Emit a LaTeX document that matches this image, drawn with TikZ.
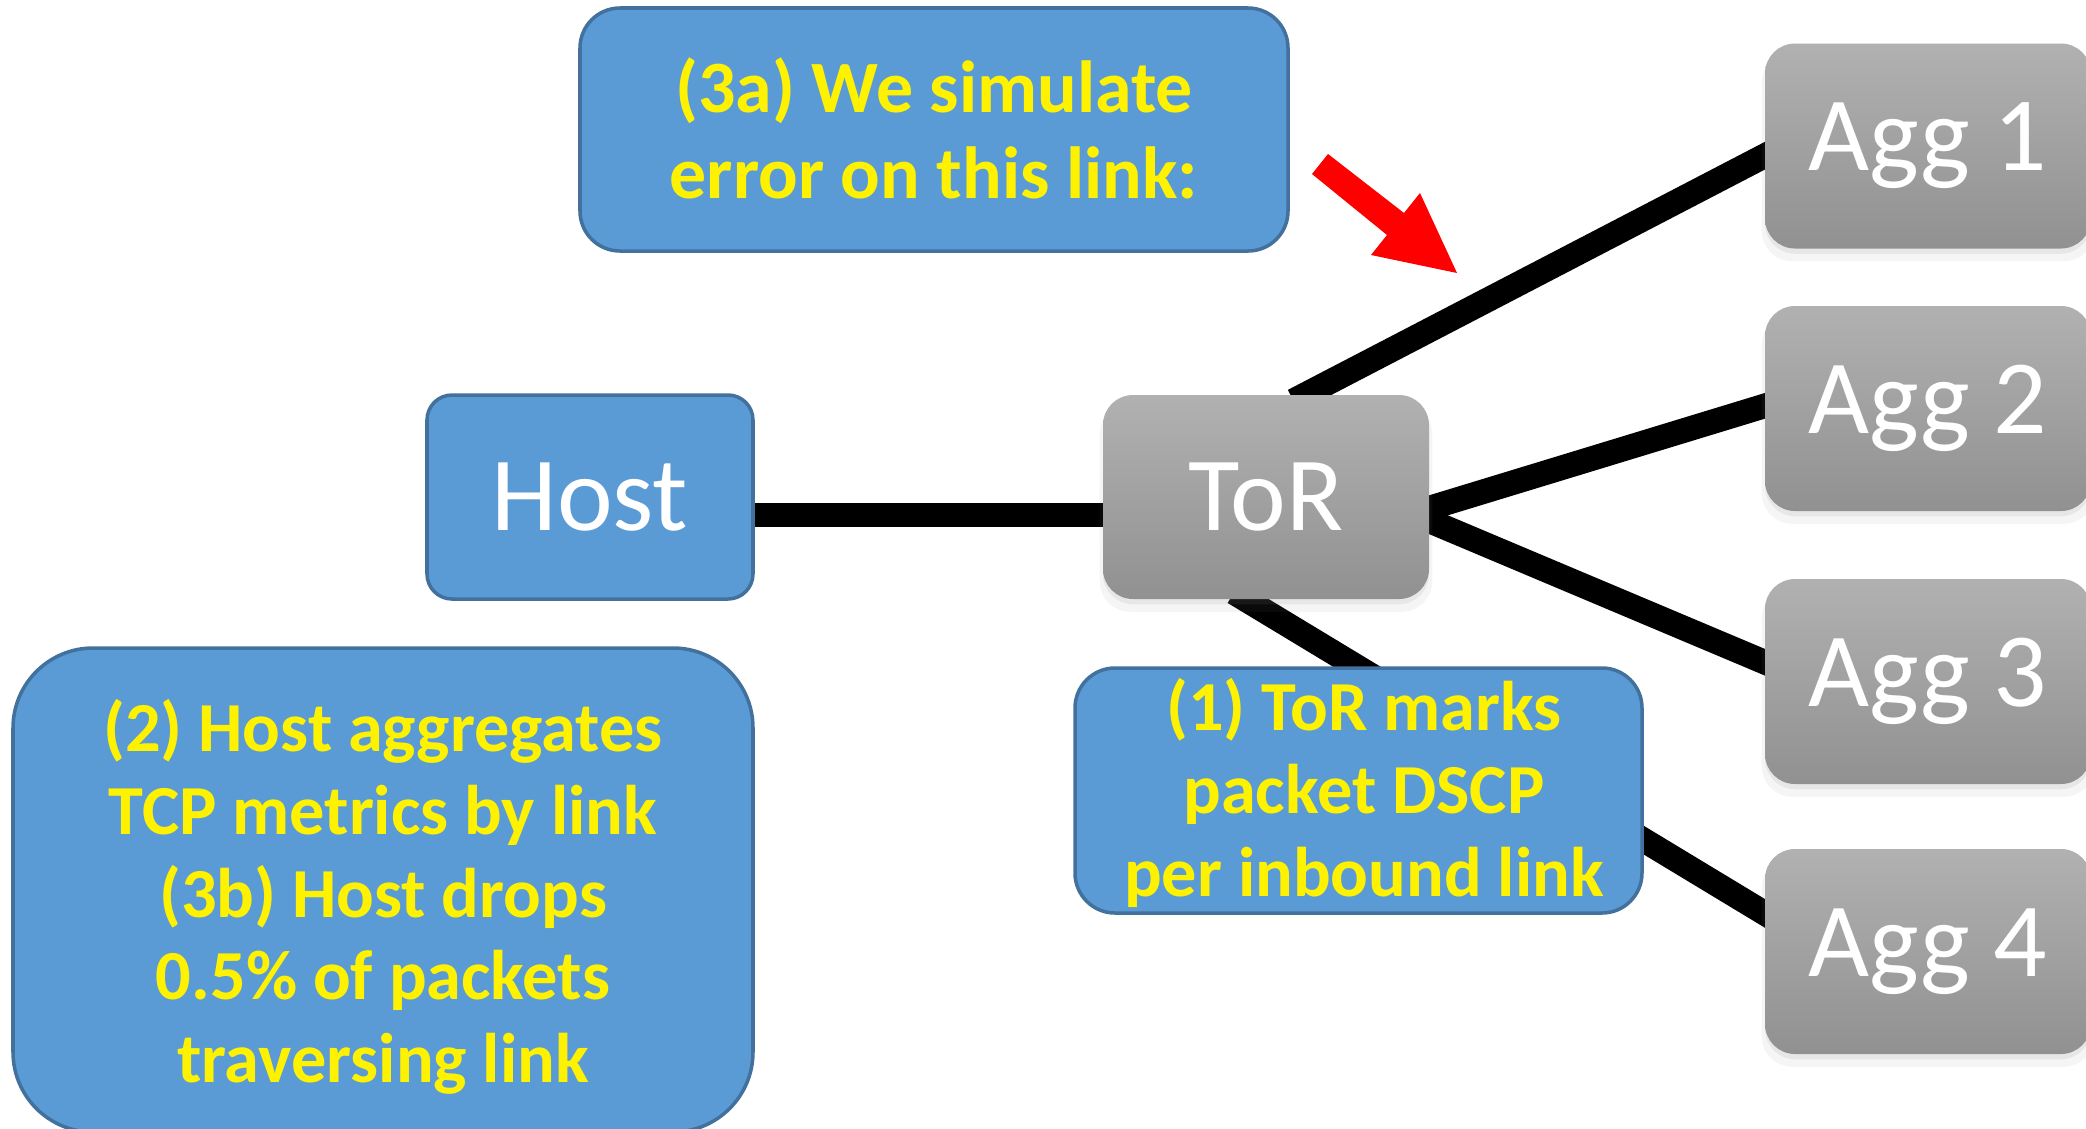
\documentclass[tikz,border=0pt]{standalone}
\usepackage{fontspec}
\setmainfont{Carlito}
\usetikzlibrary{backgrounds,calc,shadows}
\definecolor{boxblue}{RGB}{91,155,213}
\definecolor{boxedge}{RGB}{65,113,156}
\definecolor{switchtop}{RGB}{177,177,177}
\definecolor{switchbot}{RGB}{145,145,145}
\newcommand{\linkwidth}{7pt}
\newcommand{\boxw}{3.26cm}
\newcommand{\boxh}{2.04cm}

\begin{document}
\begin{tikzpicture}[
  switch/.style={rounded corners=0.3cm, top color=switchtop, bottom color=switchbot,
    minimum width=\boxw, minimum height=\boxh, inner sep=0pt, text=white,
    font=\fontsize{30}{36}\selectfont,
    drop shadow={opacity=0.08, shadow xshift=0pt, shadow yshift=-3pt, shadow scale=1.02},
    drop shadow={opacity=0.12, shadow xshift=0pt, shadow yshift=-1.5pt}},
  hostbox/.style={rounded corners=0.25cm, fill=boxblue, draw=boxedge, line width=1pt,
    minimum width=\boxw, minimum height=\boxh, inner sep=0pt, text=white,
    font=\fontsize{30}{36}\selectfont},
  infobox/.style={fill=boxblue, draw=boxedge, line width=1pt, inner sep=0pt},
  infotext/.style={text=yellow, font=\bfseries\fontsize{20}{23.5}\selectfont,
    align=center, inner sep=0pt},
  link/.style={line width=\linkwidth, shorten <=-4pt, shorten >=-4pt}
]
\useasboundingbox (0,0) rectangle (20.86,-11.28);
% boxes
\node[hostbox] (host) at (5.90,-4.97) {Host};
\node[switch] (tor) at (12.66,-4.97) {ToR};
\node[switch, minimum height=2.05cm] (agg1) at (19.28,-1.46) {Agg 1};
\node[switch, minimum height=2.05cm] (agg2) at (19.28,-4.085) {Agg 2};
\node[switch, minimum height=2.05cm] (agg3) at (19.28,-6.815) {Agg 3};
\node[switch, minimum height=2.05cm] (agg4) at (19.28,-9.515) {Agg 4};
% notes
\node[infobox, rounded corners=0.4cm, minimum width=7.08cm, minimum height=2.43cm] (simbox) at (9.34,-1.295) {};
\node[infotext, font=\bfseries\fontsize{21}{24.5}\selectfont] (simtext) at (9.34,-1.28) {(3a) We simulate\\error on this link:};
\node[infobox, rounded corners=0.8cm, minimum width=7.40cm, minimum height=4.84cm] (hostnote) at (3.83,-8.90) {};
\node[infotext] (hosttext) at (3.83,-8.97) {(2) Host aggregates\\TCP metrics by link\\(3b) Host drops\\0.5\% of packets\\traversing link};
\node[infobox, rounded corners=0.4cm, minimum width=5.67cm, minimum height=2.45cm] (tornote) at (13.585,-7.905) {};
\node[infotext] (tortext) at (13.64,-7.93) {(1) ToR marks\\packet DSCP\\per inbound link};
% links
\begin{scope}[on background layer]
\draw[link] ($(host.east)+(0,-0.18)$) -- ($(tor.west)+(0,-0.18)$);
\draw[link] ($(tor.north)+(0.4,0)$) -- ($(agg1.west)+(0,-0.1)$);
\draw[link] ($(tor.east)+(0,-0.11)$) -- ($(agg2.west)+(0,0.025)$);
\draw[link] ($(tor.east)+(0,-0.24)$) -- ($(agg3.west)+(0,0.195)$);
\draw[link] ($(tor.south)+(-0.2,0)$) -- ($(agg4.west)+(0,0.385)$);
\end{scope}
% red pointer
\fill[red] (13.28,-1.54) -- (14.04,-2.13) -- (14.20,-1.93) -- (14.57,-2.73)
  -- (13.71,-2.55) -- (13.87,-2.35) -- (13.12,-1.74) -- cycle;
\end{tikzpicture}
\end{document}
